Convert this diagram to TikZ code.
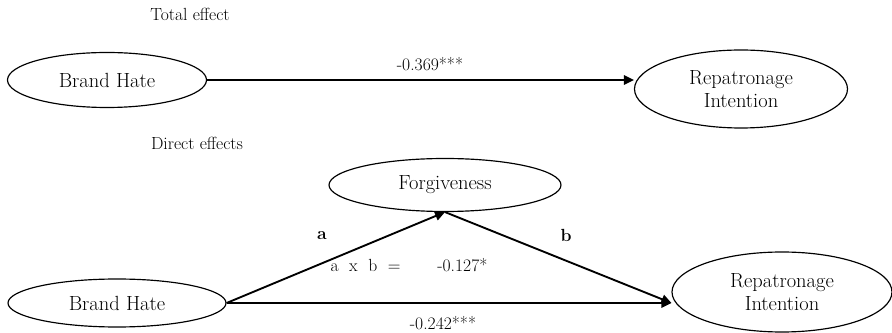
\documentclass[tikz,border=0pt]{standalone}
\usepackage{tikz}
\usetikzlibrary{arrows.meta, shapes.geometric}

\begin{document}
\begin{tikzpicture}[
  latent/.style={ellipse, draw=black, line width=1pt, inner sep=0pt, align=center, font=\fontsize{17.5}{19.5}\selectfont},
  effect/.style={line width=1.6pt, -{Triangle[length=8.5pt, width=8pt]}},
  lbl/.style={font=\fontsize{15}{18}\selectfont}
]
\useasboundingbox (0,0) rectangle (26.76,9.99);

% Total effect
\node[lbl] (ttotal) at (5.7,9.57) {Total effect};
\node[latent, minimum width=5.97cm, minimum height=1.65cm] (bh1) at (3.21,7.59) {Brand Hate};
\node[latent, minimum width=6.39cm, minimum height=2.34cm] (ri1) at (22.23,7.32) {Repatronage\\Intention};
\draw[effect] (bh1.east) -- (bh1.east -| ri1.west);
\node[lbl] (ctotal) at (12.9,8.07) {-0.369***};

% Direct effects
\node[lbl] (tdirect) at (5.91,5.7) {Direct effects};
\node[latent, minimum width=6.96cm, minimum height=1.59cm] (fg) at (13.35,4.44) {Forgiveness};
\node[latent, minimum width=6.54cm, minimum height=1.44cm] (bh2) at (3.51,0.9) {Brand Hate};
\node[latent, minimum width=6.6cm, minimum height=2.4cm] (ri2) at (23.46,1.23) {Repatronage\\Intention};
\coordinate (ri2in) at (bh2.east -| ri2.west);
\draw[effect] (bh2.east) -- (fg.south);
\draw[effect] (fg.south) -- (ri2in);
\draw[effect] (bh2.east) -- (ri2in);

% Labels
\node[lbl] (pa) at (9.66,2.91) {\textbf{a}};
\node[lbl] (pb) at (16.98,2.94) {\textbf{b}};
\node[lbl] (cind) at (12.27,2.04) {a\hspace{0.6em}x\hspace{0.6em}b\hspace{0.6em}=\hspace{2.1em}-0.127*};
\node[lbl] (cdirect) at (13.29,0.3) {-0.242***};
\end{tikzpicture}
\end{document}
